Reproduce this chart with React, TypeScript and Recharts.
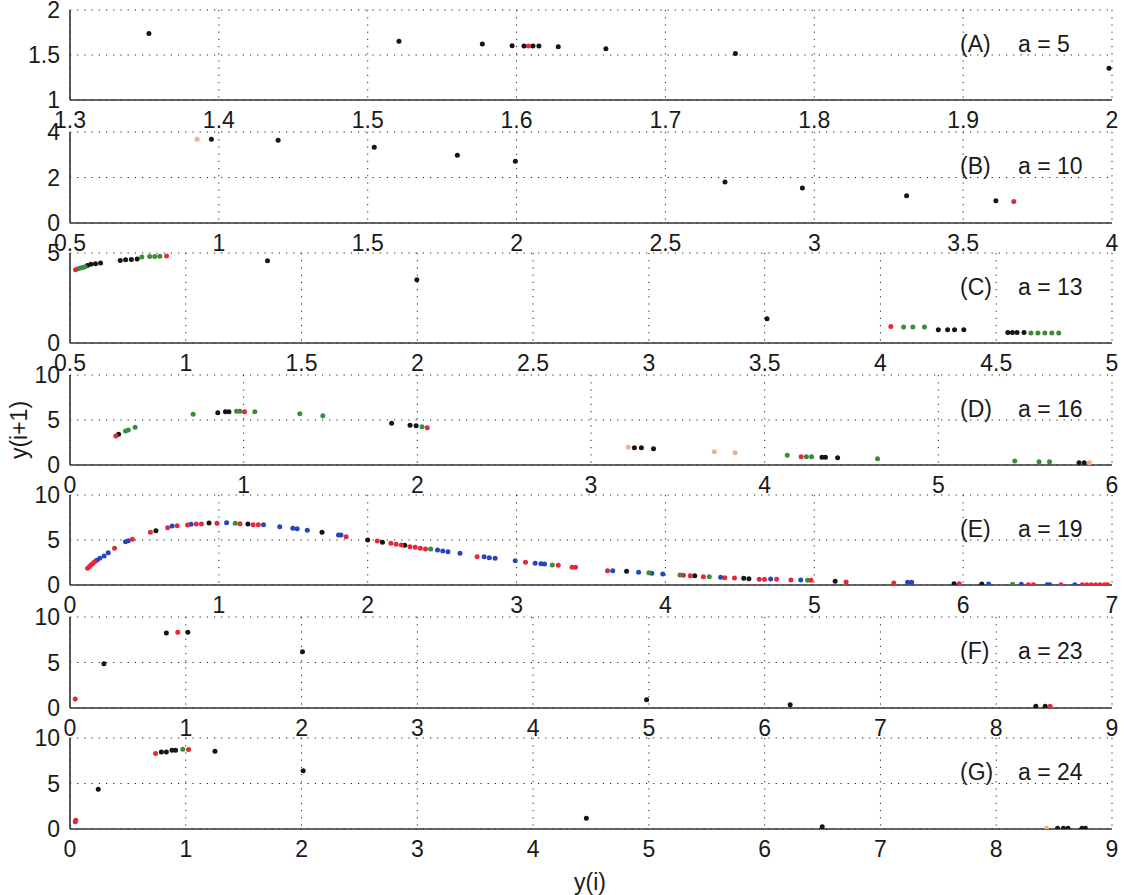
import React from "react";
import { ScatterChart, Scatter, XAxis, YAxis, CartesianGrid } from "recharts";

type P = [number, number];

// ---------- Panel (A) a = 5 ----------
const aBlack: P[] = [[1.353,1.74],[1.521,1.652],[1.577,1.622],[1.597,1.604],[1.605,1.60],[1.611,1.60],[1.615,1.60],[1.628,1.593],[1.660,1.570],[1.747,1.518],[1.998,1.352]];
const aRed: P[] = [[1.608,1.60]];
const aXTicks = [1.3,1.4,1.5,1.6,1.7,1.8,1.9,2];
const aYTicks = [1,1.5,2];

// ---------- Panel (B) a = 10 ----------
const bBlack: P[] = [[0.975,3.68],[1.199,3.64],[1.522,3.33],[1.801,2.98],[1.996,2.71],[2.70,1.80],[2.96,1.54],[3.31,1.20],[3.61,0.98]];
const bRed: P[] = [[3.67,0.95]];
const bPale: P[] = [[0.927,3.68]];
const bXTicks = [0.5,1,1.5,2,2.5,3,3.5,4];
const bYTicks = [0,2,4];

// ---------- Panel (C) a = 13 ----------
const cBlack: P[] = [[0.575,4.3],[0.59,4.37],[0.61,4.4],[0.632,4.44],[0.717,4.59],[0.74,4.62],[0.765,4.64],[0.79,4.67],[1.353,4.57],[1.998,3.52],[3.51,1.35],[4.25,0.74],[4.29,0.74],[4.32,0.74],[4.36,0.74],[4.55,0.59],[4.57,0.59],[4.59,0.59],[4.62,0.59]];
const cRed: P[] = [[0.524,4.07],[0.917,4.83],[4.045,0.92]];
const cGreen: P[] = [[0.535,4.12],[0.545,4.16],[0.555,4.2],[0.565,4.24],[0.81,4.78],[0.844,4.8],[0.866,4.81],[0.888,4.82],[4.10,0.89],[4.14,0.89],[4.19,0.89],[4.65,0.55],[4.68,0.55],[4.71,0.55],[4.74,0.55],[4.77,0.55]];
const cXTicks = [0.5,1,1.5,2,2.5,3,3.5,4,4.5,5];
const cYTicks = [0,5];

// ---------- Panel (D) a = 16 ----------
const dBlack: P[] = [[0.28,3.41],[0.851,5.81],[0.895,5.92],[0.915,5.92],[1.852,4.63],[1.958,4.41],[1.993,4.37],[3.25,1.93],[3.29,1.93],[3.36,1.81],[4.33,0.85],[4.35,0.85],[4.42,0.81],[5.81,0.26],[5.84,0.26]];
const dRed: P[] = [[0.264,3.22],[1.005,5.92],[2.057,4.15],[4.21,0.93]];
const dGreen: P[] = [[0.32,3.78],[0.336,3.89],[0.375,4.19],[0.709,5.63],[0.959,5.96],[0.979,5.96],[1.064,5.92],[1.323,5.7],[1.456,5.48],[2.027,4.26],[4.13,1.07],[4.24,0.93],[4.27,0.93],[4.65,0.70],[5.44,0.44],[5.58,0.37],[5.64,0.37]];
const dPale: P[] = [[3.215,1.97],[3.71,1.48],[3.83,1.37],[5.87,0.26]];
const dXTicks = [0,1,2,3,4,5,6];
const dYTicks = [0,5,10];

// ---------- Panel (E) a = 19 ----------
const eBlack: P[] = [[0.577,6.04],[0.934,6.89],[1.195,6.78],[1.693,5.85],[2.0,5.0],[2.099,4.74],[2.249,4.41],[3.739,1.52],[4.197,1.04],[4.526,0.74],[4.561,0.70],[5.14,0.41],[5.939,0.15],[6.125,0.11]];
const eRed: P[] = [[0.118,1.85],[0.13,2.03],[0.141,2.22],[0.153,2.4],[0.165,2.59],[0.299,4.07],[0.419,5.07],[0.54,5.85],[0.656,6.37],[0.72,6.59],[0.79,6.67],[0.848,6.78],[0.883,6.78],[0.987,6.85],[1.142,6.81],[1.23,6.7],[1.265,6.7],[1.855,5.37],[2.064,4.89],[2.156,4.63],[2.191,4.52],[2.226,4.44],[2.284,4.26],[2.319,4.19],[2.353,4.07],[2.388,4.0],[2.735,3.15],[3.06,2.52],[3.28,2.19],[3.373,1.96],[3.396,1.96],[3.611,1.59],[4.121,1.07],[4.167,1.04],[4.255,0.93],[4.399,0.81],[4.464,0.78],[4.63,0.63],[4.665,0.63],[4.747,0.63],[4.843,0.56],[4.978,0.52],[5.214,0.33],[5.534,0.22],[5.974,0.15],[6.438,0.04],[6.472,0.04],[6.657,0.03],[6.80,0.02],[6.83,0.02],[6.86,0.02],[6.89,0.02],[6.92,0.02],[6.95,0.02],[6.97,0.02]];
const eBlue: P[] = [[0.18,2.75],[0.2,2.96],[0.229,3.22],[0.257,3.59],[0.373,4.81],[0.392,4.93],[0.686,6.56],[0.813,6.74],[1.052,6.93],[1.3,6.7],[1.409,6.48],[1.497,6.3],[1.526,6.26],[1.594,6.07],[1.804,5.56],[1.82,5.56],[2.469,3.89],[2.504,3.78],[2.539,3.7],[2.62,3.52],[2.782,3.15],[2.817,3.04],[2.856,2.96],[2.991,2.7],[3.125,2.41],[3.164,2.37],[3.188,2.33],[3.646,1.59],[3.82,1.41],[3.908,1.30],[3.982,1.22],[4.371,0.85],[4.707,0.67],[4.909,0.56],[5.627,0.3],[5.654,0.3],[6.171,0.11],[6.391,0.07],[6.565,0.04],[6.582,0.04],[6.75,0.03]];
const eGreen: P[] = [[1.11,6.85],[2.423,4.0],[3.24,2.22],[3.889,1.37],[4.098,1.11],[4.295,0.93],[4.955,0.52],[6.333,0.07]];
const eXTicks = [0,1,2,3,4,5,6,7];
const eYTicks = [0,5,10];

// ---------- Panel (F) a = 23 ----------
const fBlack: P[] = [[0.293,4.87],[0.832,8.25],[1.018,8.32],[2.008,6.17],[4.98,0.9],[6.22,0.36],[8.342,0.18],[8.423,0.18]];
const fRed: P[] = [[0.045,1.0],[0.931,8.32],[8.466,0.18]];
const fXTicks = [0,1,2,3,4,5,6,7,8,9];
const fYTicks = [0,5,10];

// ---------- Panel (G) a = 24 ----------
const gBlack: P[] = [[0.244,4.38],[0.789,8.47],[0.832,8.47],[0.881,8.65],[0.912,8.65],[1.252,8.54],[2.014,6.39],[4.46,1.17],[6.497,0.25],[8.53,0.08],[8.58,0.08],[8.62,0.08],[8.74,0.08],[8.77,0.08]];
const gRed: P[] = [[0.045,0.8],[0.05,0.95],[0.739,8.29],[1.024,8.73]];
const gGreen: P[] = [[0.974,8.76]];
const gPale: P[] = [[8.435,0.08]];
const gXTicks = [0,1,2,3,4,5,6,7,8,9];
const gYTicks = [0,5,10];

const BLACK = "#151515";
const RED = "#e5283c";
const GREEN = "#3c8c3c";
const BLUE = "#2446c0";
const PALE = "#efb08a";

const FONT = "'Liberation Sans', Arial, sans-serif";
const FS = 23;

type Series = { pts: P[]; color: string };
type PanelSpec = {
  letter: string;
  a: string;
  top: number;
  height: number;
  xTicks: number[];
  yTicks: number[];
  series: Series[];
};

const panels: PanelSpec[] = [
  { letter: "(A)", a: "a = 5", top: 10, height: 90, xTicks: aXTicks, yTicks: aYTicks, series: [{ pts: aBlack, color: BLACK }, { pts: aRed, color: RED }] },
  { letter: "(B)", a: "a = 10", top: 132, height: 91, xTicks: bXTicks, yTicks: bYTicks, series: [{ pts: bBlack, color: BLACK }, { pts: bRed, color: RED }, { pts: bPale, color: PALE }] },
  { letter: "(C)", a: "a = 13", top: 253, height: 90, xTicks: cXTicks, yTicks: cYTicks, series: [{ pts: cBlack, color: BLACK }, { pts: cGreen, color: GREEN }, { pts: cRed, color: RED }] },
  { letter: "(D)", a: "a = 16", top: 375, height: 90, xTicks: dXTicks, yTicks: dYTicks, series: [{ pts: dBlack, color: BLACK }, { pts: dGreen, color: GREEN }, { pts: dRed, color: RED }, { pts: dPale, color: PALE }] },
  { letter: "(E)", a: "a = 19", top: 495, height: 90, xTicks: eXTicks, yTicks: eYTicks, series: [{ pts: eBlack, color: BLACK }, { pts: eBlue, color: BLUE }, { pts: eGreen, color: GREEN }, { pts: eRed, color: RED }] },
  { letter: "(F)", a: "a = 23", top: 617, height: 91, xTicks: fXTicks, yTicks: fYTicks, series: [{ pts: fBlack, color: BLACK }, { pts: fRed, color: RED }] },
  { letter: "(G)", a: "a = 24", top: 738, height: 91, xTicks: gXTicks, yTicks: gYTicks, series: [{ pts: gBlack, color: BLACK }, { pts: gGreen, color: GREEN }, { pts: gRed, color: RED }, { pts: gPale, color: PALE }] },
];

const toObj = (pts: P[]) => pts.map(([x, y]) => ({ x, y }));

const tickStyle = { fill: "#1a1a1a", fontSize: FS, fontFamily: FONT };

const PAD = 14;

function Panel({ spec }: { spec: PanelSpec }) {
  const xDom: [number, number] = [spec.xTicks[0], spec.xTicks[spec.xTicks.length - 1]];
  const yDom: [number, number] = [spec.yTicks[0], spec.yTicks[spec.yTicks.length - 1]];
  const H = spec.height + PAD + 40;
  return (
    <div style={{ position: "absolute", left: 0, top: spec.top - PAD, width: 1124, height: H }}>
      <ScatterChart width={1124} height={H} margin={{ top: PAD, right: 12, bottom: 10, left: 10 }} style={{ overflow: "visible" }}>
        <CartesianGrid stroke="#222" strokeDasharray="1.2 6" />
        <XAxis type="number" dataKey="x" domain={xDom} ticks={spec.xTicks} interval={0} allowDataOverflow
          height={30} tickLine={false} tickMargin={6} axisLine={{ stroke: "#333", strokeWidth: 1.6 }} tick={tickStyle} />
        <YAxis type="number" dataKey="y" domain={yDom} ticks={spec.yTicks} interval={0} allowDataOverflow
          width={60} tickLine={false} tickMargin={4} axisLine={{ stroke: "#333", strokeWidth: 1.6 }} tick={tickStyle} />
        <XAxis xAxisId="top" orientation="top" type="number" domain={xDom} height={0} tick={false} tickLine={false}
          axisLine={{ stroke: "#333", strokeWidth: 1.6 }} />
        <YAxis yAxisId="right" orientation="right" type="number" domain={yDom} width={0} tick={false} tickLine={false}
          axisLine={{ stroke: "#333", strokeWidth: 1.6 }} />
        {spec.series.map((s, i) => (
          <Scatter key={i} data={toObj(s.pts)} isAnimationActive={false}
            shape={(p: any) => <circle cx={p.cx} cy={p.cy} r={2.5} fill={s.color} />} />
        ))}
      </ScatterChart>
    </div>
  );
}

export default function App() {
  return (
    <div style={{ position: "absolute", left: 0, top: 0, width: 1124, height: 895, background: "#fff", overflow: "hidden" }}>
      {panels.map((p) => (
        <Panel key={p.letter} spec={p} />
      ))}
      <svg width={1124} height={895} style={{ position: "absolute", left: 0, top: 0, pointerEvents: "none" }}>
        {panels.map((p) => (
          <g key={p.letter} fontFamily={FONT} fontSize={FS} fill="#1a1a1a">
            <text x={960} y={p.top + 42}>{p.letter}</text>
            <text x={1018} y={p.top + 42}>{p.a}</text>
          </g>
        ))}
        <text x={590} y={890} textAnchor="middle" fontFamily={FONT} fontSize={FS} fill="#1a1a1a">y(i)</text>
        <text transform="translate(27,430) rotate(-90)" textAnchor="middle" fontFamily={FONT} fontSize={FS} fill="#1a1a1a">y(i+1)</text>
      </svg>
    </div>
  );
}
